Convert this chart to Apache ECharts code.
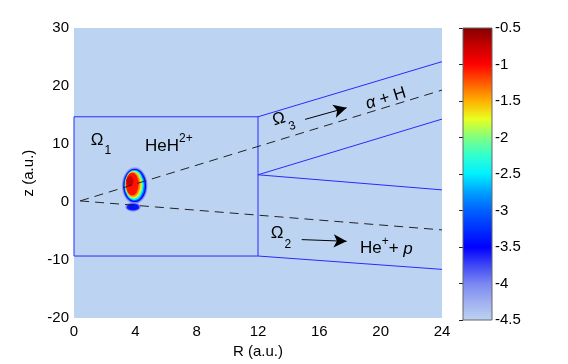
<!DOCTYPE html>
<html>
<head>
<meta charset="utf-8">
<script src="https://cdn.jsdelivr.net/npm/echarts@6/dist/echarts.min.js"></script>
<style>
html,body{margin:0;padding:0;background:#fff}
#main{width:568px;height:364px}
</style>
</head>
<body>
<div id="main"></div>
<script>
// axis ranges / tick steps
const rRange = [0, 24], rStep = 4
const zRange = [-20, 30], zStep = 10
const cRange = [-4.5, -0.5], cStep = 0.5

// colour map, every 0.25 from -4.5 up to -0.5
const cmapColors = ['#bcd4f1', '#a0b0f0', '#7a88f2', '#4048f5', '#0000ff', '#0030ff', '#0060ff', '#00a0ff',
    '#00f0ff', '#30ffd0', '#80ff80', '#e8ff20', '#ffb000', '#ff5800', '#ff0000', '#c80000', '#800000']

// region boundaries, points are (R, z)
const boxEdge = [[0, 14.7], [12, 14.7], [12, -9.3], [0, -9.3], [0, 14.7]]
const ch3Top = [[12, 14.7], [24, 24.2]]
const ch3Bottom = [[12, 4.7], [24, 14.3]]
const ch2Top = [[12, 4.7], [24, 2.1]]
const ch2Bottom = [[12, -9.3], [24, -11.6]]
// dashed paths
const upperPath = [[0.4, 0.2], [24, 19.3]]
const lowerPath = [[0.4, 0.2], [24, -4.8]]
// arrows
const arrow3 = [[15.07, 14.25], [17.78, 16.25]]
const arrow2 = [[14.85, -6.47], [17.78, -6.76]]

// density blob, layers from outside in: centre R, centre z, half width R, half height z, value
const blobR = [3.96, 3.96, 3.96, 3.95, 3.93, 3.9, 3.88, 3.85, 3.8, 3.65, 3.85, 3.85, 3.85]
const blobZ = [2.83, 2.83, 2.83, 2.85, 2.9, 2.95, 3.0, 3.05, 3.1, 3.6, -0.85, -0.85, -0.85]
const blobHalfR = [0.84, 0.79, 0.74, 0.68, 0.62, 0.57, 0.52, 0.48, 0.42, 0.23, 0.5, 0.42, 0.3]
const blobHalfZ = [3.15, 3.0, 2.86, 2.7, 2.57, 2.4, 2.28, 2.14, 1.97, 0.86, 0.8, 0.62, 0.45]
const blobValue = [-4.2, -3.9, -3.5, -3.0, -2.5, -2.0, -1.7, -1.4, -1.05, -0.75, -4.1, -3.6, -3.4]

// text annotations (left edge R, centre z)
const labelR = [1.09, 4.63, 13.0, 18.98, 12.83, 18.65]
const labelZ = [10.45, 10.2, 13.7, 17.4, -5.73, -7.45]
const labelText = ['{o|Ω}{sub|1}', '{t|HeH}{sup|2+}', '{o|Ω}{sub|3}', '{i|α}{t| + H}', '{o|Ω}{sub|2}', '{t|He}{sup|+}{t|+ }{i|p}']
const labelTilt = [0, 0, 17, 17, 0, 0]

const font = 'Liberation Sans, Arial, sans-serif'
const blue = '#2a2aff'

let myChart = echarts.init(document.getElementById('main'))

let blobData = blobR.map(function (r, i) {
    return [r, blobZ[i], blobHalfR[i], blobHalfZ[i], blobValue[i]]
})
let labelData = labelR.map(function (r, i) {
    return [r, labelZ[i]]
})

const rich = {
    o: {fontSize: 17, fontFamily: font, lineHeight: 20, verticalAlign: 'top', fill: '#000'},
    sub: {fontSize: 12, fontFamily: font, lineHeight: 14, padding: [13, 0, 0, 1], verticalAlign: 'top', fill: '#000'},
    t: {fontSize: 17, fontFamily: font, lineHeight: 20, padding: [5, 0, 0, 0], verticalAlign: 'top', fill: '#000'},
    sup: {fontSize: 12, fontFamily: font, lineHeight: 14, verticalAlign: 'top', fill: '#000'},
    i: {fontSize: 17, fontFamily: font, fontStyle: 'italic', lineHeight: 20, padding: [5, 0, 0, 0], verticalAlign: 'top', fill: '#000'}
}

function lineSeries(data, dashed) {
    return {
        type: 'line',
        data: data,
        showSymbol: false,
        symbol: 'none',
        silent: true,
        lineStyle: dashed ? {color: '#222', width: 1, type: [9, 6]} : {color: blue, width: 1}
    }
}

function arrowLine(pts) {
    return [{coord: pts[0]}, {coord: pts[1]}]
}

let option = {
    animation: false,
    grid: [
        {left: 74, top: 28, width: 368, height: 292, show: true, backgroundColor: cmapColors[0], borderWidth: 0},
        {left: 463, top: 28, width: 29, height: 292}
    ],
    xAxis: [{
        type: 'value', min: rRange[0], max: rRange[1], interval: rStep,
        name: 'R (a.u.)', nameLocation: 'middle', nameGap: 24,
        nameTextStyle: {fontSize: 15, fontFamily: font, color: '#000'},
        axisLine: {show: false}, axisTick: {show: false}, splitLine: {show: false},
        axisLabel: {fontSize: 15, fontFamily: font, color: '#000', margin: 6}
    }, {
        gridIndex: 1, type: 'value', min: 0, max: 1, show: false
    }],
    yAxis: [{
        type: 'value', min: zRange[0], max: zRange[1], interval: zStep,
        name: 'z (a.u.)', nameLocation: 'middle', nameGap: 34,
        nameTextStyle: {fontSize: 15, fontFamily: font, color: '#000'},
        axisLine: {show: false}, axisTick: {show: false}, splitLine: {show: false},
        axisLabel: {fontSize: 15, fontFamily: font, color: '#000', margin: 5}
    }, {
        gridIndex: 1, type: 'value', min: cRange[0], max: cRange[1], interval: cStep, position: 'right',
        axisLine: {show: false}, splitLine: {show: false},
        axisTick: {show: true, inside: true, length: 4, lineStyle: {color: '#222'}},
        axisLabel: {fontSize: 15, fontFamily: font, color: '#000', margin: 3}
    }],
    visualMap: {
        type: 'continuous', show: false, min: cRange[0], max: cRange[1],
        dimension: 4, seriesIndex: 0, inRange: {color: cmapColors}
    },
    series: [
        {
            type: 'custom',
            data: blobData,
            silent: true,
            renderItem: function (params, api) {
                let c = api.coord([api.value(0), api.value(1)])
                let s = api.size([api.value(2), api.value(3)])
                return {
                    type: 'circle',
                    x: c[0], y: c[1], scaleX: s[0], scaleY: s[1],
                    shape: {cx: 0, cy: 0, r: 1},
                    style: {fill: api.visual('color')}
                }
            }
        },
        lineSeries(boxEdge),
        lineSeries(ch3Top),
        lineSeries(ch3Bottom),
        lineSeries(ch2Top),
        lineSeries(ch2Bottom),
        lineSeries(upperPath, true),
        lineSeries(lowerPath, true),
        {
            type: 'line',
            data: [],
            markLine: {
                silent: true,
                symbol: ['none', 'arrow'],
                symbolSize: [10, 13],
                label: {show: false},
                lineStyle: {color: '#000', width: 1, type: 'solid'},
                data: [arrowLine(arrow3), arrowLine(arrow2)]
            }
        },
        {
            type: 'custom',
            data: labelData,
            silent: true,
            renderItem: function (params, api) {
                let i = params.dataIndex
                let c = api.coord([api.value(0), api.value(1)])
                return {
                    type: 'text',
                    x: c[0], y: c[1],
                    rotation: labelTilt[i] * Math.PI / 180,
                    style: {
                        text: labelText[i], rich: rich,
                        fontSize: 17, fontFamily: font, fill: '#000',
                        align: 'left', verticalAlign: 'middle'
                    }
                }
            }
        },
        {
            // colour bar
            type: 'custom',
            xAxisIndex: 1, yAxisIndex: 1,
            data: [[0, cRange[0]]],
            silent: true,
            renderItem: function (params, api) {
                let p0 = api.coord([0, cRange[1]])
                let p1 = api.coord([1, cRange[0]])
                let stops = cmapColors.map(function (col, k) {
                    return {offset: 1 - k / (cmapColors.length - 1), color: col}
                }).reverse()
                return {
                    type: 'rect',
                    shape: {x: p0[0], y: p0[1], width: p1[0] - p0[0], height: p1[1] - p0[1]},
                    style: {
                        fill: new echarts.graphic.LinearGradient(0, 0, 0, 1, stops),
                        stroke: '#666', lineWidth: 1
                    }
                }
            }
        }
    ]
}

myChart.setOption(option)
</script>
</body>
</html>
